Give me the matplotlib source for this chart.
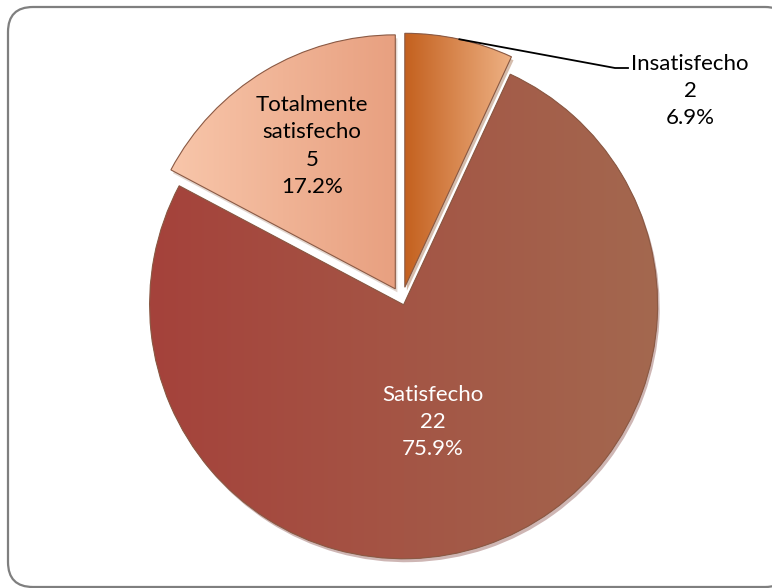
import numpy as np
import matplotlib.pyplot as plt
from matplotlib.patches import FancyBboxPatch, Wedge
from matplotlib.colors import LinearSegmentedColormap

# data
categorias = ['Insatisfecho', 'Satisfecho', 'Totalmente\nsatisfecho']
valores = [2, 22, 5]
porcentajes = ['6.9%', '75.9%', '17.2%']

# style
col_izq = ['#c4611f', '#a5423b', '#f8c6aa']
col_der = ['#eeb184', '#a3684f', '#e8a080']
explode = [13, 5, 13]          # offset of each slice, pixels
txt_color = ['black', 'white', 'black']
label_pos = [(690, 497), (433, 166), (312, 442)]

W, H = 772, 588
fig = plt.figure(figsize=(W / 100, H / 100), dpi=100)
ax = fig.add_axes([0, 0, 1, 1])
ax.axis('off')

# chart frame
frame = FancyBboxPatch((8, 1), 782, 580, boxstyle='round,pad=0,rounding_size=25',
                       facecolor='white', edgecolor='#7f7f7f', linewidth=1.6, zorder=0)
ax.add_patch(frame)

cx, cy, r = 402, 288, 254
wedges, _ = ax.pie(valores, startangle=90, counterclock=False, center=(cx, cy),
                   radius=r, explode=explode, colors=col_izq,
                   wedgeprops=dict(linewidth=0),
                   shadow=dict(ox=1.5, oy=-2.5, shade=0.3, alpha=0.35))

grad = np.linspace(0, 1, 256).reshape(1, -1)
for i, w in enumerate(wedges):
    cmap = LinearSegmentedColormap.from_list('g%d' % i, [col_izq[i], col_der[i]])
    bb = w.get_path().get_extents()
    im = ax.imshow(grad, cmap=cmap, extent=(bb.x0, bb.x1, bb.y0, bb.y1),
                   aspect='auto', zorder=1.5, interpolation='bilinear')
    im.set_clip_path(w)
    edge = Wedge(w.center, r, w.theta1, w.theta2, facecolor='none',
                 edgecolor='#8a5a45', linewidth=0.8, zorder=2)
    ax.add_patch(edge)

ax.set_xlim(0, W)
ax.set_ylim(0, H)
ax.set_aspect('equal')

plt.rcParams['font.family'] = ['Lato', 'DejaVu Sans']
fs = 16
for i, w in enumerate(wedges):
    txt = '%s\n%d\n%s' % (categorias[i], valores[i], porcentajes[i])
    if i == 0:
        # outside label with leader line from the middle of the arc
        ang = np.deg2rad((w.theta1 + w.theta2) / 2)
        x0, y0 = w.center
        px, py = x0 + r * np.cos(ang), y0 + r * np.sin(ang)
        ax.plot([px, 615, 628], [py, 520, 520], color='black', lw=1.3, zorder=3)
    ax.text(label_pos[i][0], label_pos[i][1], txt, ha='center', va='center',
            fontsize=fs, linespacing=1.45, color=txt_color[i], zorder=4)

fig.savefig('out.png', dpi=100)
